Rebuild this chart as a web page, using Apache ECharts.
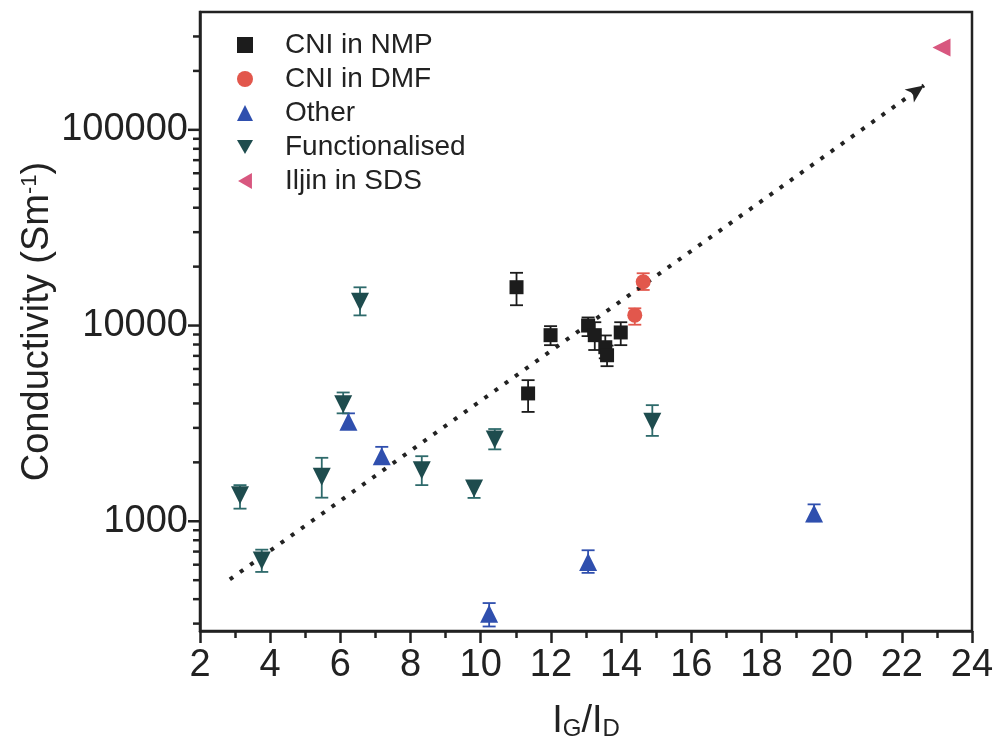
<!DOCTYPE html>
<html>
<head>
<meta charset="utf-8">
<script src="https://cdn.jsdelivr.net/npm/echarts@6/dist/echarts.min.js"></script>
<style>
  html, body { margin: 0; padding: 0; background: #fff; }
  #chart { width: 994px; height: 755px; }
</style>
</head>
<body>
<div id="chart"></div>
<script>
// data: [IG/ID, conductivity, err low, err high]
var nmpData = [
    [11.02, 15700, 12700, 18600],
    [11.35, 4500, 3620, 5260],
    [11.99, 8930, 7940, 9930],
    [13.06, 10000, 8830, 11000],
    [13.25, 8930, 7500, 10400],
    [13.55, 7750, 6800, 8900],
    [13.60, 7050, 6200, 7900],
    [13.99, 9220, 7940, 10400]
];
var dmfData = [
    [14.39, 11300, 10100, 12250],
    [14.63, 16750, 15200, 18500]
];
var otherData = [
    [6.23, 3220, 2980, 3560],
    [7.18, 2150, 2000, 2400],
    [10.24, 337, 290, 382],
    [13.06, 620, 545, 711],
    [19.50, 1095, 1000, 1220]
];
var funcData = [
    [3.14, 1360, 1160, 1530],
    [3.76, 631, 551, 716],
    [5.47, 1690, 1320, 2110],
    [6.08, 3960, 3560, 4550],
    [6.56, 13250, 11270, 15680],
    [8.32, 1820, 1530, 2150],
    [9.81, 1470, 1316, 1560],
    [10.40, 2620, 2330, 2960],
    [14.89, 3220, 2730, 3920]
];
var iljinData = [
    [23.13, 263800]
];
var trendLine = [[2.85, 505], [22.63, 168500]];

var seriesNames = ['CNI in NMP', 'CNI in DMF', 'Other', 'Functionalised', 'Iljin in SDS'];

var xMin = 2, xMax = 24, xStep = 2;
var yMin = 275, yMax = 400000;
var yMajorTicks = [1000, 10000, 100000];
var yMinorTicks = [300, 400, 500, 600, 700, 800, 900,
    2000, 3000, 4000, 5000, 6000, 7000, 8000, 9000,
    20000, 30000, 40000, 50000, 60000, 70000, 80000, 90000,
    200000, 300000];

var axisColor = '#222';
var fontFamily = 'Liberation Sans, Arial, sans-serif';

// 符号
var triDown = 'path://M0,0 L10,0 L5,8.66 Z';
var triLeft = 'path://M8.66,0 L8.66,10 L0,5 Z';
var seriesIcons = ['rect', 'circle', 'triangle', triDown, triLeft];

// 误差棒
function errorBarSeries(data, color) {
    return {
        type: 'custom',
        z: 1,
        silent: true,
        data: data.map(function (d) { return [d[0], d[2], d[3]]; }),
        renderItem: function (params, api) {
            var lo = api.coord([api.value(0), api.value(1)]);
            var hi = api.coord([api.value(0), api.value(2)]);
            var w = 6.5;
            var st = { stroke: color, lineWidth: 1.8 };
            return {
                type: 'group',
                children: [
                    { type: 'line', shape: { x1: lo[0], y1: lo[1], x2: hi[0], y2: hi[1] }, style: st },
                    { type: 'line', shape: { x1: lo[0] - w, y1: lo[1], x2: lo[0] + w, y2: lo[1] }, style: st },
                    { type: 'line', shape: { x1: hi[0] - w, y1: hi[1], x2: hi[0] + w, y2: hi[1] }, style: st }
                ]
            };
        }
    };
}

function scatterSeries(name, data, color, symbol, size) {
    return {
        name: name,
        type: 'scatter',
        z: 3,
        symbol: symbol,
        symbolSize: size,
        itemStyle: { color: color, opacity: 1 },
        data: data.map(function (d) { return [d[0], d[1]]; })
    };
}

// y 轴刻度(对数刻度, 含 2..9 小刻度)
var yTickSeries = {
    type: 'custom',
    silent: true,
    clip: false,
    z: 5,
    data: yMajorTicks.concat(yMinorTicks).map(function (v) { return [xMin, v]; }),
    renderItem: function (params, api) {
        var v = api.value(1);
        var p = api.coord([xMin, v]);
        var l = Math.log10(v);
        var major = Math.abs(l - Math.round(l)) < 1e-6;
        var len = major ? 12 : 7;
        return {
            type: 'line',
            shape: { x1: p[0] - len, y1: p[1], x2: p[0], y2: p[1] },
            style: { stroke: axisColor, lineWidth: 2.5 }
        };
    }
};

var colors = {
    nmp: '#1c1c1c',
    dmf: '#e2574c',
    other: '#2f4fae',
    func: '#1e4c4e',
    funcErr: '#2e6a6b',
    iljin: '#d8577f'
};

var option = {
    backgroundColor: '#fff',
    animation: false,
    grid: {
        left: 200, right: 22, top: 12, bottom: 124,
        show: true, borderColor: axisColor, borderWidth: 2.5,
        outerBoundsMode: 'none'
    },
    legend: {
        data: seriesNames.map(function (n, i) {
            return { name: n, icon: seriesIcons[i] };
        }),
        orient: 'vertical',
        left: 232, top: 26,
        itemWidth: 16, itemHeight: 16,
        itemGap: 6,
        textStyle: { fontSize: 28, color: '#222', fontFamily: fontFamily, padding: [0, 0, 0, 27] }
    },
    xAxis: {
        type: 'value',
        min: xMin, max: xMax, interval: xStep,
        name: '{m|I}{s|G}{m|/I}{s|D}',
        nameLocation: 'middle',
        nameGap: 72,
        nameMoveOverlap: false,
        nameTextStyle: {
            rich: {
                m: { fontSize: 38, color: '#222', fontFamily: fontFamily },
                s: { fontSize: 24, color: '#222', fontFamily: fontFamily, verticalAlign: 'bottom', padding: [14, 0, 0, 0] }
            }
        },
        axisLine: { lineStyle: { color: axisColor, width: 2.5 } },
        axisTick: { length: 12, lineStyle: { color: axisColor, width: 2.5 } },
        minorTick: { show: true, splitNumber: 2, length: 7, lineStyle: { color: axisColor, width: 2.5 } },
        splitLine: { show: false },
        axisLabel: { fontSize: 38, color: '#222', fontFamily: fontFamily, margin: 16 }
    },
    yAxis: {
        type: 'log',
        logBase: 10,
        min: yMin, max: yMax,
        name: 'Conductivity (Sm{sup|-1})',
        nameLocation: 'middle',
        nameGap: 143,
        nameMoveOverlap: false,
        nameTextStyle: {
            fontSize: 38, color: '#222', fontFamily: fontFamily,
            rich: {
                sup: { fontSize: 22, color: '#222', fontFamily: fontFamily, verticalAlign: 'top', padding: [0, 0, 16, 0] }
            }
        },
        axisLine: { lineStyle: { color: axisColor, width: 2.5 } },
        axisTick: { show: false },
        splitLine: { show: false },
        axisLabel: {
            fontSize: 38, color: '#222', fontFamily: fontFamily, margin: 12,
            formatter: function (v) {
                var l = Math.log10(v);
                return Math.abs(l - Math.round(l)) < 1e-6 ? String(Math.round(v)) : '';
            }
        }
    },
    series: [
        {
            type: 'line',
            z: 2,
            silent: true,
            symbol: 'none',
            data: trendLine,
            lineStyle: { color: '#222', width: 4, type: [4, 8.5] },
            markLine: {
                silent: true,
                symbol: ['none', 'arrow'],
                symbolSize: [12, 18],
                label: { show: false },
                lineStyle: { color: '#222', width: 0.01, type: 'solid' },
                data: [[{ coord: trendLine[0] }, { coord: trendLine[1] }]]
            }
        },
        errorBarSeries(nmpData, colors.nmp),
        errorBarSeries(dmfData, colors.dmf),
        errorBarSeries(otherData, colors.other),
        errorBarSeries(funcData, colors.funcErr),
        scatterSeries(seriesNames[0], nmpData, colors.nmp, seriesIcons[0], 14),
        scatterSeries(seriesNames[1], dmfData, colors.dmf, seriesIcons[1], 15),
        scatterSeries(seriesNames[2], otherData, colors.other, seriesIcons[2], 18),
        scatterSeries(seriesNames[3], funcData, colors.func, seriesIcons[3], 18),
        scatterSeries(seriesNames[4], iljinData, colors.iljin, seriesIcons[4], 18),
        yTickSeries
    ]
};

var oChart = echarts.init(document.getElementById('chart'));
oChart.setOption(option);
</script>
</body>
</html>
